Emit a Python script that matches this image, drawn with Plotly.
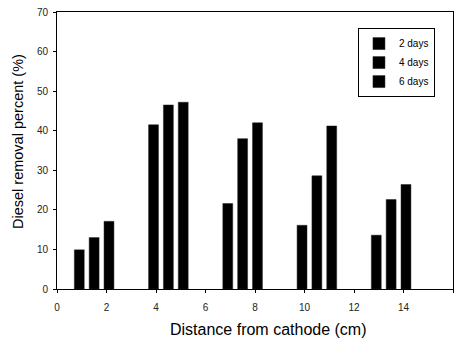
import plotly.graph_objects as go

distance = [1.5, 4.5, 7.5, 10.5, 13.5]
days2 = [9.9, 41.5, 21.6, 16.1, 13.6]
days4 = [13.0, 46.5, 38.0, 28.6, 22.6]
days6 = [17.1, 47.2, 42.0, 41.2, 26.4]
series_names = ["2 days", "4 days", "6 days"]
x_ticks = [0, 2, 4, 6, 8, 10, 12, 14, 16]
y_ticks = [0, 10, 20, 30, 40, 50, 60, 70]

fig = go.Figure()
for name, vals in zip(series_names, [days2, days4, days6]):
    fig.add_trace(go.Bar(x=distance, y=vals, name=name,
                         marker=dict(color="black", line=dict(color="#222", width=0.5))))

axis_common = dict(showline=True, linecolor="black", linewidth=1, mirror=True,
                   ticks="outside", ticklen=3, tickcolor="black", showgrid=False,
                   zeroline=False, tickfont=dict(family="Liberation Sans, Arial", size=10, color="#222"))

fig.update_layout(
    width=457, height=342,
    margin=dict(l=57, r=4, t=12, b=53),
    plot_bgcolor="white", paper_bgcolor="white",
    barmode="group", bargap=0.4, bargroupgap=1/3,
    font=dict(family="Liberation Sans, Arial", color="black"),
    xaxis=dict(range=[0, 16], tickvals=x_ticks, ticklabelstandoff=6, **axis_common),
    yaxis=dict(range=[0, 70], tickvals=y_ticks, ticklabelstandoff=3, **axis_common),
    legend=dict(x=0.76, y=0.942, xanchor="left", yanchor="top",
                bordercolor="black", borderwidth=1, bgcolor="white",
                font=dict(size=10), tracegroupgap=0, itemwidth=30),
    annotations=[
        dict(text="Distance from cathode (cm)", xref="paper", yref="paper",
             x=(268 - 57) / 396, y=-(330 - 289) / 277, xanchor="center", yanchor="middle",
             showarrow=False, font=dict(size=16)),
        dict(text="Diesel removal percent (%)", xref="paper", yref="paper",
             x=-(57 - 18) / 396, y=(289 - 142) / 277, xanchor="center", yanchor="middle",
             textangle=-90, showarrow=False, font=dict(size=14.5)),
    ],
)

fig.write_html("out.html")
